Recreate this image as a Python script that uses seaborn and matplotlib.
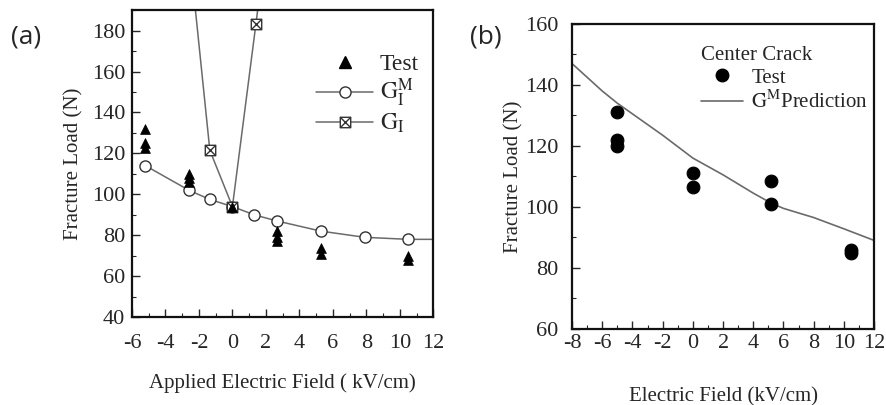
import numpy as np
import pandas as pd
import matplotlib
matplotlib.use("Agg")
import matplotlib.pyplot as plt
import seaborn as sns
from matplotlib.path import Path
from matplotlib.lines import Line2D
from matplotlib.ticker import MultipleLocator

# ---------------- data: panel (a) ----------------
a_test_x = [-5.2, -5.2, -5.2, -2.6, -2.6, -2.6, 0.0, 2.65, 2.65, 2.65, 5.3, 5.3, 10.5, 10.5]
a_test_y = [132, 125, 122.5, 110, 108, 106, 94, 82, 79, 77, 74, 71, 70, 68]

a_gim_x = [-5.2, -2.6, -1.35, 0.0, 1.3, 2.65, 5.3, 7.9, 10.5, 12.0]
a_gim_y = [114, 102, 97.5, 94, 90, 87, 82, 79, 78, 78]
a_gim_marker = [True, True, True, True, True, True, True, True, True, False]

a_gi_x = [-2.6, -1.35, 0.0, 1.4, 2.65]
a_gi_y = [221, 121.5, 94, 183, 265]

# ---------------- data: panel (b) ----------------
b_test_x = [-5, -5, -5, 0, 0, 5.2, 5.2, 10.5, 10.5]
b_test_y = [131, 122, 120, 111, 106.5, 108.5, 101, 86, 85]

b_pred_x = [-8, -6, -5, -4, -2, 0, 2, 4, 5.2, 6, 8, 10, 12]
b_pred_y = [147, 138, 134, 130.5, 123.5, 116, 110.5, 104.5, 101.2, 99.5, 96.5, 92.8, 89]

# ---------------- style ----------------
sns.set_style("ticks")
plt.rcParams["font.family"] = ["Liberation Serif", "DejaVu Serif"]
plt.rcParams["mathtext.fontset"] = "stix"
plt.rcParams["axes.unicode_minus"] = False
plt.rcParams["axes.linewidth"] = 1.6

fig = plt.figure(figsize=(8.86, 4.05), dpi=100)
axA = fig.add_axes([0.149, 0.217, 0.340, 0.758])
axB = fig.add_axes([0.6456, 0.188, 0.341, 0.753])

sq_verts = [(-1, -1), (1, -1), (1, 1), (-1, 1), (-1, -1),
            (-1, -1), (1, 1), (-1, 1), (1, -1)]
sq_codes = [Path.MOVETO, Path.LINETO, Path.LINETO, Path.LINETO, Path.CLOSEPOLY,
            Path.MOVETO, Path.LINETO, Path.MOVETO, Path.LINETO]
boxx = Path(sq_verts, sq_codes)

line_col = "#6a6a6a"

# panel (a)
sns.lineplot(x=a_gim_x, y=a_gim_y, ax=axA, color=line_col, lw=1.1,
             marker="o", markersize=8, markerfacecolor="white",
             markeredgecolor="#333333", markeredgewidth=1.0,
             markevery=a_gim_marker, sort=False, legend=False)
sns.lineplot(x=a_gi_x, y=a_gi_y, ax=axA, color=line_col, lw=1.1,
             marker=boxx, markersize=7.5, markerfacecolor="white",
             markeredgecolor="#333333", markeredgewidth=1.0,
             sort=False, legend=False)
sns.scatterplot(x=a_test_x, y=a_test_y, ax=axA, marker="^", s=50,
                color="black", edgecolor="black", linewidth=0.5, zorder=5, legend=False)
axA.set_xlim(-6, 12)
axA.set_ylim(40, 190)
axA.xaxis.set_major_locator(MultipleLocator(2))
axA.xaxis.set_minor_locator(MultipleLocator(1))
axA.yaxis.set_major_locator(MultipleLocator(20))
axA.yaxis.set_minor_locator(MultipleLocator(10))
axA.set_xlabel("Applied Electric Field ( kV/cm)", fontsize=15, labelpad=15)
axA.set_ylabel("Fracture Load (N)", fontsize=15, labelpad=6)

hA = [Line2D([], [], ls="none", marker="^", color="black", markersize=8),
      Line2D([], [], color=line_col, lw=1.1, marker="o", markersize=8,
             markerfacecolor="white", markeredgecolor="#333333"),
      Line2D([], [], color=line_col, lw=1.1, marker=boxx, markersize=7.5,
             markerfacecolor="white", markeredgecolor="#333333")]
axA.legend(hA, ["Test", r"$\mathrm{G_I^M}$", r"$\mathrm{G_I}$"],
           loc="upper left", bbox_to_anchor=(0.58, 0.89), frameon=False,
           fontsize=17, handlelength=2.4, handletextpad=0.3, labelspacing=0.1,
           borderaxespad=0)

# panel (b)
sns.lineplot(x=b_pred_x, y=b_pred_y, ax=axB, color=line_col, lw=1.2, legend=False)
sns.scatterplot(x=b_test_x, y=b_test_y, ax=axB, marker="o", s=85,
                color="black", edgecolor="black", zorder=5, legend=False)
axB.set_xlim(-8, 12)
axB.set_ylim(60, 160)
axB.xaxis.set_major_locator(MultipleLocator(2))
axB.xaxis.set_minor_locator(MultipleLocator(1))
axB.yaxis.set_major_locator(MultipleLocator(20))
axB.yaxis.set_minor_locator(MultipleLocator(10))
axB.set_xlabel("Electric Field (kV/cm)", fontsize=15, labelpad=24)
axB.set_ylabel("Fracture Load (N)", fontsize=15, labelpad=1)

hB = [Line2D([], [], ls="none", marker="o", color="black", markersize=9),
      Line2D([], [], color=line_col, lw=1.2)]
legB = axB.legend(hB, ["Test", r"$\mathrm{G^M}$Prediction"],
                  title="Center Crack", title_fontsize=15,
                  loc="upper left", bbox_to_anchor=(0.40, 0.955), frameon=False,
                  fontsize=15, handlelength=2.0, handletextpad=0.4, labelspacing=0.15,
                  borderaxespad=0)
legB._legend_box.align = "left"

for ax in (axA, axB):
    for s in ax.spines.values():
        s.set_visible(True)
        s.set_linewidth(1.6)
        s.set_color("#111111")
    ax.tick_params(which="major", direction="in", length=6, width=1.0,
                   labelsize=16, top=False, right=False)
    ax.tick_params(which="minor", direction="in", length=3, width=0.8,
                   top=False, right=False)

axA.tick_params(axis="x", which="major", pad=12)
axA.tick_params(axis="y", which="major", pad=5)
axB.tick_params(axis="x", which="major", pad=4)
axB.tick_params(axis="y", which="major", pad=10)

fig.text(0.012, 0.893, "(a)", fontsize=19, family=["Open Sans", "DejaVu Sans"])
fig.text(0.530, 0.893, "(b)", fontsize=19, family=["Open Sans", "DejaVu Sans"])

fig.savefig("out.png", dpi=100)
